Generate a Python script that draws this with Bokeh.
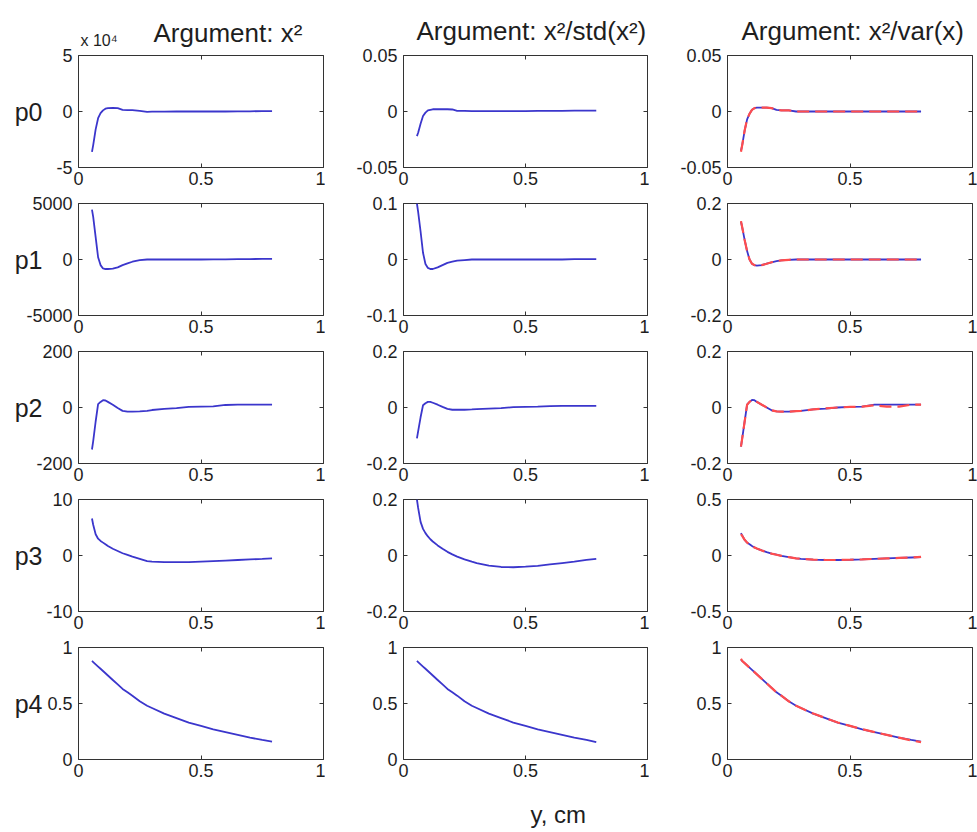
from bokeh.plotting import figure
from bokeh.layouts import gridplot
from bokeh.models import Range1d, FixedTicker, LinearAxis, Title, CustomJSTickFormatter
from bokeh.embed import file_html
from bokeh.resources import INLINE

# ---------------- data ----------------
y_cm = [0.055, 0.06, 0.07, 0.08, 0.09, 0.10, 0.11, 0.12, 0.14, 0.16, 0.18, 0.20, 0.22,
        0.25, 0.28, 0.30, 0.35, 0.40, 0.45, 0.50, 0.55, 0.60, 0.65, 0.70, 0.75, 0.79]

# p0
p0_x2 = [-3.6, -3.0, -1.6, -0.6, -0.15, 0.1, 0.25, 0.3, 0.32, 0.3, 0.15, 0.12, 0.12,
         0.05, -0.03, -0.02, -0.01, 0.0, 0.0, 0.0, 0.0, 0.0, 0.01, 0.02, 0.03, 0.03]  # x 10^4
p0_std = [-0.022, -0.019, -0.011, -0.004, -0.001, 0.001, 0.0015, 0.002, 0.002, 0.002, 0.002, 0.0018, 0.0005,
          0.0005, 0.0004, 0.0004, 0.0004, 0.0004, 0.0004, 0.0004, 0.0005, 0.0005, 0.0006, 0.0007, 0.0008, 0.0008]
p0_var = [-0.035, -0.03, -0.017, -0.007, -0.002, 0.0015, 0.003, 0.0035, 0.0035, 0.0035, 0.003, 0.0015, 0.001,
          0.001, 0.0, 0.0, 0.0, 0.0, 0.0, 0.0, 0.0, 0.0, 0.0, 0.0, 0.0, 0.0]
p0_var_alt = [-0.036, -0.03, -0.017, -0.007, -0.002, 0.0015, 0.003, 0.0035, 0.0035, 0.0035, 0.003, 0.0015, 0.001,
              0.001, 0.0, 0.0, 0.0, 0.0, 0.0, 0.0, 0.0, 0.0, 0.0, 0.0, 0.0, 0.0]

# p1
p1_x2 = [4450, 3800, 2000, 200, -500, -800, -850, -850, -820, -700, -500, -350, -200,
         -50, 0, 0, 0, 0, 0, 0, 10, 20, 30, 40, 50, 50]
p1_std = [0.10, 0.085, 0.05, 0.012, -0.008, -0.015, -0.017, -0.017, -0.014, -0.010, -0.006, -0.004, -0.002,
          -0.001, 0.0, 0.0, 0.0, 0.0, 0.0, 0.0, 0.0, 0.0, 0.0, 0.0005, 0.0005, 0.0005]
p1_var = [0.135, 0.115, 0.07, 0.03, 0.0, -0.015, -0.02, -0.022, -0.02, -0.015, -0.01, -0.006, -0.003,
          -0.001, 0.0, 0.0, 0.0, 0.0, 0.0, 0.0, 0.0, 0.0, 0.0, 0.0, 0.0, 0.0]
p1_var_alt = [0.137, 0.115, 0.07, 0.03, 0.0, -0.015, -0.02, -0.022, -0.02, -0.015, -0.01, -0.006, -0.003,
              -0.001, 0.0, 0.0, 0.0, 0.0, 0.0, 0.0, 0.0, 0.0, 0.0, 0.0, 0.0, 0.0]

# p2
p2_x2 = [-150, -120, -50, 12, 20, 26, 25, 20, 10, -2, -12, -15, -15,
         -14, -12, -9, -5, -2, 2, 3, 4, 9, 10, 10, 10, 10]
p2_std = [-0.11, -0.085, -0.035, 0.008, 0.015, 0.02, 0.02, 0.017, 0.01, 0.002, -0.005, -0.008, -0.008,
          -0.008, -0.007, -0.006, -0.004, -0.002, 0.001, 0.002, 0.003, 0.005, 0.006, 0.006, 0.006, 0.006]
p2_var = [-0.14, -0.11, -0.05, 0.01, 0.02, 0.027, 0.026, 0.02, 0.01, 0.0, -0.01, -0.014, -0.015,
          -0.015, -0.013, -0.012, -0.007, -0.004, 0.0, 0.002, 0.003, 0.01, 0.01, 0.01, 0.01, 0.01]
p2_var_alt = [-0.14, -0.11, -0.05, 0.01, 0.02, 0.027, 0.026, 0.02, 0.01, 0.0, -0.01, -0.014, -0.015,
              -0.015, -0.013, -0.012, -0.007, -0.003, 0.0, 0.002, 0.003, 0.008, 0.003, 0.003, 0.01, 0.01]

# p3
p3_x2 = [6.6, 5.5, 3.8, 3.0, 2.6, 2.3, 2.0, 1.7, 1.2, 0.8, 0.4, 0.1, -0.2,
         -0.6, -1.0, -1.1, -1.2, -1.2, -1.2, -1.1, -1.0, -0.9, -0.8, -0.7, -0.6, -0.5]
p3_std = [0.2, 0.17, 0.12, 0.095, 0.08, 0.068, 0.058, 0.05, 0.036, 0.024, 0.013, 0.004, -0.004,
          -0.014, -0.022, -0.027, -0.036, -0.041, -0.042, -0.04, -0.037, -0.032, -0.027, -0.022, -0.016, -0.012]
p3_var = [0.2, 0.18, 0.14, 0.115, 0.1, 0.085, 0.072, 0.062, 0.045, 0.03, 0.017, 0.007, -0.003,
          -0.015, -0.025, -0.03, -0.037, -0.04, -0.04, -0.038, -0.035, -0.03, -0.026, -0.022, -0.018, -0.015]
p3_var_alt = [0.19, 0.175, 0.14, 0.115, 0.1, 0.085, 0.072, 0.062, 0.045, 0.03, 0.017, 0.007, -0.003,
              -0.015, -0.025, -0.03, -0.037, -0.04, -0.04, -0.038, -0.035, -0.03, -0.026, -0.022, -0.018, -0.012]

# p4
p4_x2 = [0.88, 0.87, 0.85, 0.83, 0.81, 0.79, 0.77, 0.75, 0.71, 0.67, 0.63, 0.60, 0.57,
         0.52, 0.48, 0.46, 0.41, 0.37, 0.33, 0.30, 0.27, 0.245, 0.22, 0.195, 0.175, 0.16]
p4_std = [0.88, 0.87, 0.85, 0.83, 0.81, 0.79, 0.77, 0.75, 0.71, 0.67, 0.63, 0.60, 0.57,
          0.52, 0.48, 0.46, 0.41, 0.37, 0.33, 0.30, 0.27, 0.245, 0.22, 0.195, 0.175, 0.155]
p4_var = [0.89, 0.88, 0.86, 0.84, 0.82, 0.80, 0.78, 0.76, 0.72, 0.68, 0.64, 0.60, 0.57,
          0.52, 0.48, 0.46, 0.41, 0.37, 0.33, 0.30, 0.27, 0.245, 0.22, 0.195, 0.175, 0.16]
p4_var_alt = [0.90, 0.88, 0.86, 0.84, 0.82, 0.80, 0.78, 0.76, 0.72, 0.68, 0.64, 0.60, 0.57,
              0.52, 0.48, 0.46, 0.41, 0.37, 0.33, 0.30, 0.27, 0.245, 0.22, 0.195, 0.17, 0.155]

row_names = ["p0", "p1", "p2", "p3", "p4"]
col_titles = ["Argument: x\u00b2", "Argument: x\u00b2/std(x\u00b2)", "Argument: x\u00b2/var(x)"]
x_ticks = [0, 0.5, 1]
y_ticks = [
    [[-5, 0, 5], [-0.05, 0, 0.05], [-0.05, 0, 0.05]],
    [[-5000, 0, 5000], [-0.1, 0, 0.1], [-0.2, 0, 0.2]],
    [[-200, 0, 200], [-0.2, 0, 0.2], [-0.2, 0, 0.2]],
    [[-10, 0, 10], [-0.2, 0, 0.2], [-0.5, 0, 0.5]],
    [[0, 0.5, 1], [0, 0.5, 1], [0, 0.5, 1]],
]
series = [
    [p0_x2, p0_std, (p0_var, p0_var_alt)],
    [p1_x2, p1_std, (p1_var, p1_var_alt)],
    [p2_x2, p2_std, (p2_var, p2_var_alt)],
    [p3_x2, p3_std, (p3_var, p3_var_alt)],
    [p4_x2, p4_std, (p4_var, p4_var_alt)],
]
exponent_label = "x 10\u2074"
x_label = "y, cm"

# ---------------- style ----------------
FONT = "Liberation Sans"
TXT = "#1e1e1e"
BLUE = "#3b36cc"
RED = "#ff4d4d"
frame_w = [245, 244, 245]
left_b = [78, 78, 78]
right_b = [2, 2, 5]
frame_h = 112
top_b = [55, 10, 10, 10, 10]
bot_b = [26, 26, 26, 26, 73]
title_offsets = [75, 13, 14]
title_standoffs = [-50, 20, 20]
row_label_standoff = [11, -19, -9, 1, 2]

fmt_code = "return String(tick);"


def style_axis(ax, ticks, show_labels=True, hidden_size="1px"):
    ax.ticker = FixedTicker(ticks=ticks)
    ax.formatter = CustomJSTickFormatter(code=fmt_code)
    ax.axis_line_color = None
    ax.major_tick_in = 4
    ax.major_tick_out = 0
    ax.minor_tick_line_color = None
    ax.major_tick_line_color = "#333333"
    ax.major_label_text_font = FONT
    ax.major_label_text_color = TXT
    if show_labels:
        ax.major_label_text_font_size = "18px"
    else:
        ax.major_label_text_font_size = hidden_size
        ax.major_label_text_alpha = 0
        ax.major_label_standoff = 0


grid = []
for r in range(5):
    row = []
    for c in range(3):
        yt = y_ticks[r][c]
        p = figure(
            width=left_b[c] + frame_w[c] + right_b[c],
            height=top_b[r] + frame_h + bot_b[r],
            x_range=Range1d(0, 1),
            y_range=Range1d(yt[0], yt[-1]),
            output_backend="svg",
            toolbar_location=None,
            min_border_left=left_b[c],
            min_border_right=right_b[c],
            min_border_top=top_b[r],
            min_border_bottom=bot_b[r],
        )
        p.grid.visible = False
        p.outline_line_color = "#333333"
        p.outline_line_width = 1
        p.background_fill_color = "white"
        p.border_fill_color = "white"
        style_axis(p.xaxis[0], x_ticks)
        style_axis(p.yaxis[0], yt)
        p.yaxis[0].major_label_standoff = 6
        p.xaxis[0].major_label_standoff = 4
        top_ax = LinearAxis()
        style_axis(top_ax, x_ticks, show_labels=False)
        p.add_layout(top_ax, "above")
        right_ax = LinearAxis()
        style_axis(right_ax, yt, show_labels=False)
        p.add_layout(right_ax, "right")

        s = series[r][c]
        if c < 2:
            p.line(y_cm, s, line_color=BLUE, line_width=1.8)
        else:
            p.line(y_cm, s[0], line_color=BLUE, line_width=1.8)
            p.line(y_cm, s[1], line_color=RED, line_width=2.2, line_dash="12 6")

        if r == 0:
            p.title.text = col_titles[c]
            p.title.text_font = FONT
            p.title.text_font_size = "26px"
            p.title.text_font_style = "normal"
            p.title.text_color = TXT
            p.title.align = "left"
            p.title.offset = title_offsets[c]
            p.title.standoff = title_standoffs[c]
            if c == 0:
                p.add_layout(Title(text=exponent_label, text_font=FONT, text_font_size="16px",
                                   text_font_style="normal", text_color=TXT, align="left",
                                   offset=2, standoff=14), "above")
        if c == 0:
            ya = p.yaxis[0]
            ya.axis_label = row_names[r]
            ya.axis_label_orientation = "horizontal"
            ya.axis_label_text_font = FONT
            ya.axis_label_text_font_size = "25px"
            ya.axis_label_text_font_style = "normal"
            ya.axis_label_text_color = TXT
            ya.axis_label_standoff = row_label_standoff[r]
        if r == 4 and c == 1:
            spacer = LinearAxis()
            style_axis(spacer, [0.5], show_labels=False)
            spacer.major_tick_in = 0
            spacer.major_tick_out = 16
            spacer.major_tick_line_color = None
            p.add_layout(spacer, "below")
            p.add_layout(Title(text=x_label, text_font=FONT, text_font_size="24px",
                               text_font_style="normal", text_color=TXT, align="left",
                               offset=127, standoff=6), "below")
        row.append(p)
    grid.append(row)

layout = gridplot(grid, toolbar_location=None)
open("out.html", "w").write(file_html(layout, INLINE))
